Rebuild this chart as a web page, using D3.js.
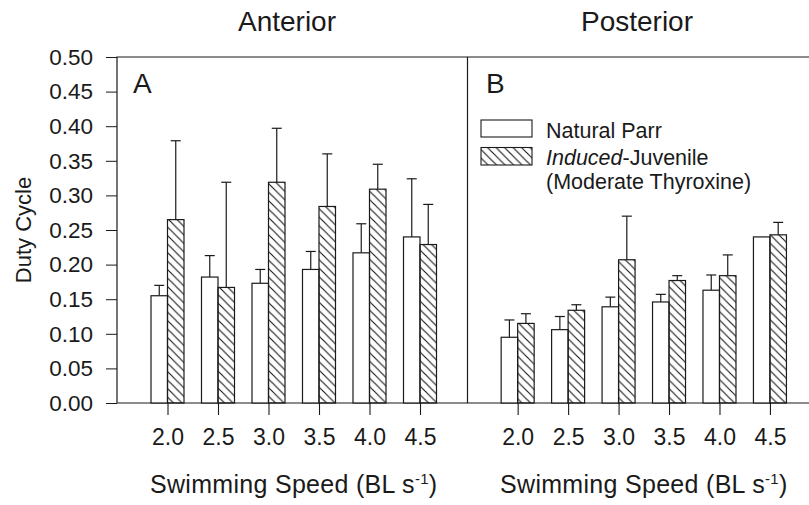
<!DOCTYPE html>
<html>
<head>
<meta charset="utf-8">
<script src="https://cdn.jsdelivr.net/npm/d3@7"></script>
<style>
  body { margin: 0; background: #fff; }
  svg text { font-family: "Liberation Sans", Arial, sans-serif; fill: #1a1a1a; }
</style>
</head>
<body>
<svg id="chart" width="809" height="505"></svg>
<script>
// swimming speeds (BL s-1)
let speeds = ["2.0", "2.5", "3.0", "3.5", "4.0", "4.5"];
let yTicks = [0, 0.05, 0.10, 0.15, 0.20, 0.25, 0.30, 0.35, 0.40, 0.45, 0.50];

// panel A - anterior
let anteriorParr = [0.155, 0.182, 0.173, 0.193, 0.217, 0.240];
let anteriorParrErr = [0.015, 0.031, 0.020, 0.026, 0.042, 0.084];
let anteriorInduced = [0.265, 0.167, 0.319, 0.284, 0.309, 0.229];
let anteriorInducedErr = [0.114, 0.152, 0.078, 0.076, 0.036, 0.058];

// panel B - posterior
let posteriorParr = [0.095, 0.106, 0.139, 0.146, 0.163, 0.240];
let posteriorParrErr = [0.025, 0.019, 0.014, 0.011, 0.022, 0];
let posteriorInduced = [0.115, 0.134, 0.207, 0.177, 0.184, 0.243];
let posteriorInducedErr = [0.014, 0.008, 0.063, 0.007, 0.030, 0.018];

let svg = d3.select("#chart");
let ink = "#1a1a1a";

let defs = svg.append("defs");
defs.append("pattern")
  .attr("id", "hatch")
  .attr("patternUnits", "userSpaceOnUse")
  .attr("width", 8.5)
  .attr("height", 8.5)
  .append("path")
  .attr("d", "M-1,-1 L9.5,9.5 M-1,7.5 L1,9.5 M7.5,-1 L9.5,1")
  .attr("stroke", ink)
  .attr("stroke-width", 1.15);

let plotTop = 57, plotBottom = 403, plotLeft = 117, plotMid = 467.5, plotRight = 809;

let y = d3.scaleLinear().domain([0, 0.5]).range([plotBottom, plotTop]);

let xA = d3.scalePoint().domain(speeds).range([117, 470.5]).padding(1);
let xB = d3.scalePoint().domain(speeds).range([467.2, 820.4]).padding(1);

let barW = 16.5;

// frame
svg.append("path")
  .attr("d", `M${plotLeft},${plotBottom} L${plotLeft},${plotTop} L${plotRight},${plotTop} M${plotMid},${plotTop} L${plotMid},${plotBottom} M${plotLeft},${plotBottom} L${plotRight},${plotBottom}`)
  .attr("fill", "none")
  .attr("stroke", ink)
  .attr("stroke-width", 1.2);

// y axis
let yAxis = d3.axisLeft(y)
  .tickValues(yTicks)
  .tickFormat(d3.format(".2f"))
  .tickSize(11)
  .tickSizeOuter(0)
  .tickPadding(13);

let gy = svg.append("g")
  .attr("transform", `translate(${plotLeft},0)`)
  .call(yAxis);
gy.select(".domain").remove();
gy.selectAll("line").attr("stroke", ink).attr("stroke-width", 1);
gy.selectAll("text").style("font-size", "22.5px").attr("fill", ink);

let drawPanel = (x, parr, parrErr, induced, inducedErr) => {
  let g = svg.append("g");

  let rows = speeds.map((s, i) => ({s: s, parr: parr[i], parrErr: parrErr[i], ind: induced[i], indErr: inducedErr[i]}));

  // error bars first, bars drawn over them
  let errs = [];
  rows.forEach(d => {
    if (d.parrErr > 0) errs.push({cx: x(d.s) - barW / 2, v: d.parr, e: d.parrErr});
    if (d.indErr > 0) errs.push({cx: x(d.s) + barW / 2, v: d.ind, e: d.indErr});
  });

  let eg = g.selectAll(".err").data(errs).enter().append("g").attr("class", "err");
  eg.append("line")
    .attr("x1", d => d.cx).attr("x2", d => d.cx)
    .attr("y1", d => y(d.v)).attr("y2", d => y(d.v + d.e))
    .attr("stroke", ink).attr("stroke-width", 1.2);
  eg.append("line")
    .attr("x1", d => d.cx - 5).attr("x2", d => d.cx + 5)
    .attr("y1", d => y(d.v + d.e)).attr("y2", d => y(d.v + d.e))
    .attr("stroke", ink).attr("stroke-width", 1.2);

  g.selectAll(".parr").data(rows).enter().append("rect")
    .attr("class", "parr")
    .attr("x", d => x(d.s) - barW)
    .attr("y", d => y(d.parr))
    .attr("width", barW)
    .attr("height", d => plotBottom - y(d.parr))
    .attr("fill", "#fff")
    .attr("stroke", ink)
    .attr("stroke-width", 1.2);

  g.selectAll(".ind").data(rows).enter().append("rect")
    .attr("class", "ind")
    .attr("x", d => x(d.s))
    .attr("y", d => y(d.ind))
    .attr("width", barW)
    .attr("height", d => plotBottom - y(d.ind))
    .attr("fill", "url(#hatch)")
    .attr("stroke", ink)
    .attr("stroke-width", 1.2);

  // x axis ticks and labels
  let xAxis = d3.axisBottom(x).tickSize(12).tickSizeOuter(0).tickPadding(14);
  let gx = svg.append("g")
    .attr("transform", `translate(0,${plotBottom})`)
    .call(xAxis);
  gx.select(".domain").remove();
  gx.selectAll("line").attr("stroke", ink).attr("stroke-width", 1.1);
  gx.selectAll("text").style("font-size", "23px").attr("fill", ink).attr("dy", "0.71em");

  // x title
  let cx = (x(speeds[0]) + x(speeds[speeds.length - 1])) / 2;
  let t = svg.append("text")
    .attr("x", cx)
    .attr("y", 493)
    .attr("text-anchor", "middle")
    .style("font-size", "25px")
    .style("letter-spacing", "0.3px");
  t.append("tspan").text("Swimming Speed (BL s");
  t.append("tspan").attr("dy", -9).style("font-size", "15px").text("-1");
  t.append("tspan").attr("dy", 9).text(")");
};

drawPanel(xA, anteriorParr, anteriorParrErr, anteriorInduced, anteriorInducedErr);
drawPanel(xB, posteriorParr, posteriorParrErr, posteriorInduced, posteriorInducedErr);

// panel titles
svg.append("text").attr("x", 287).attr("y", 31).attr("text-anchor", "middle")
  .style("font-size", "28px").text("Anterior");
svg.append("text").attr("x", 637).attr("y", 31).attr("text-anchor", "middle")
  .style("font-size", "28px").text("Posterior");

svg.append("text").attr("x", 133).attr("y", 93).style("font-size", "28px").text("A");
svg.append("text").attr("x", 486).attr("y", 93).style("font-size", "28px").text("B");

// y title
svg.append("text")
  .attr("transform", "translate(31,230) rotate(-90)")
  .attr("text-anchor", "middle")
  .style("font-size", "22px")
  .text("Duty Cycle");

// legend
let legend = svg.append("g");
legend.append("rect")
  .attr("x", 481).attr("y", 120).attr("width", 51).attr("height", 17)
  .attr("fill", "#fff").attr("stroke", ink).attr("stroke-width", 1.1);
legend.append("rect")
  .attr("x", 481).attr("y", 147.5).attr("width", 51).attr("height", 17.5)
  .attr("fill", "url(#hatch)").attr("stroke", ink).attr("stroke-width", 1.1);
legend.append("text").attr("x", 546).attr("y", 137.5).style("font-size", "21.5px").text("Natural Parr");
let l2 = legend.append("text").attr("x", 546).attr("y", 164.5).style("font-size", "21.5px");
l2.append("tspan").style("font-style", "italic").text("Induced");
l2.append("tspan").text("-Juvenile");
legend.append("text").attr("x", 546).attr("y", 189).style("font-size", "21.5px").text("(Moderate Thyroxine)");
</script>
</body>
</html>
